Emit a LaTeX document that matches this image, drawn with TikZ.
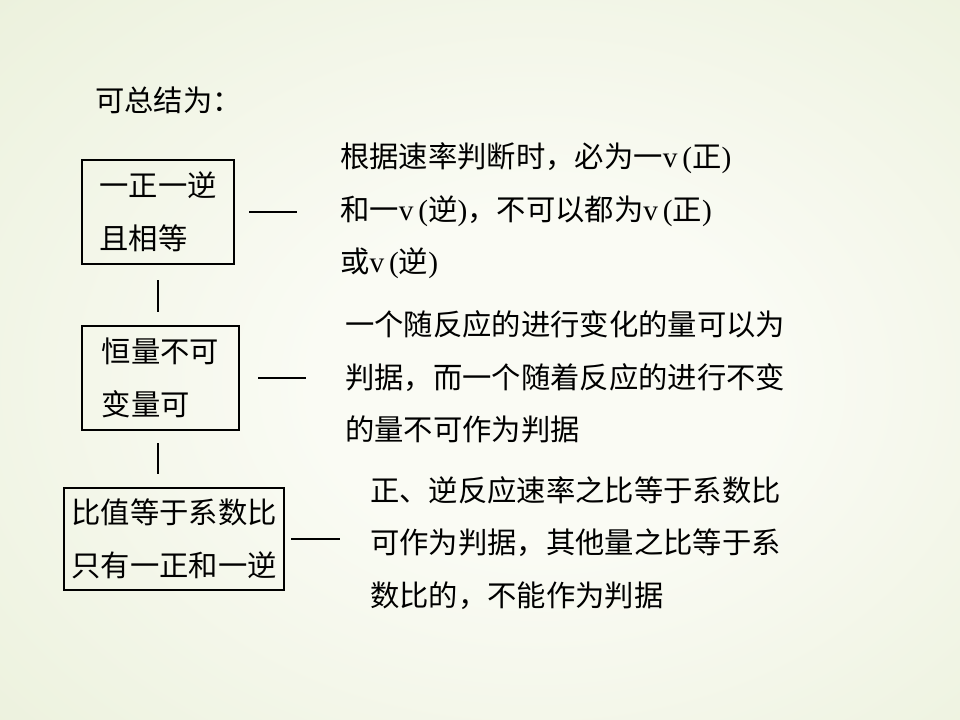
\documentclass[tikz,border=0pt]{standalone}
\usepackage{fontspec}
\newfontfamily\cjk{Noto Sans CJK SC}
\newfontfamily\lat{Liberation Serif}
\newcommand{\rate}[1]{{\lat v\,(}#1{\lat )}}
\definecolor{bgin}{HTML}{FAFBF4}
\definecolor{bgout}{HTML}{D9E4BE}
\pgfdeclareradialshading{slideglow}{\pgfpoint{4bp}{-2bp}}{color(0bp)=(bgin); color(12bp)=(bgin); color(72bp)=(bgout)}

\begin{document}
\begin{tikzpicture}[x=0.75pt, y=-0.75pt,
  every node/.style={font=\cjk\fontsize{22}{39.5}\selectfont, inner sep=0pt},
  stepbox/.style={draw, line width=1.6pt, align=left, minimum height=78pt},
  note/.style={anchor=west, align=left},
  link/.style={line width=1.2pt}]
 \shade[shading=slideglow] (0,0) rectangle (960,720);
 \useasboundingbox (0,0) rectangle (960,720);
 \node[anchor=west] (title) at (95,100) {可总结为：};
 % the three criteria
 \node[stepbox, minimum width=114pt] (b1) at (158,212) {一正一逆\\且相等};
 \node[stepbox, minimum width=117.75pt] (b2) at (160.5,378) {恒量不可\\变量可};
 \node[stepbox, minimum width=165pt, minimum height=76.5pt] (b3) at (174,539) {比值等于系数比\\只有一正和一逆};
 % explanations
 \node[note] (t1) at (340,211) {根据速率判断时，必为一\rate{正}\\和一\rate{逆}，不可以都为\rate{正}\\或\rate{逆}};
 \node[note] (t2) at (345,377) {一个随反应的进行变化的量可以为\\判据，而一个随着反应的进行不变\\的量不可作为判据};
 \node[note] (t3) at (370,543) {正、逆反应速率之比等于系数比\\可作为判据，其他量之比等于系\\数比的，不能作为判据};
 \foreach \u/\v/\a/\b in {b1/t1/10.5/32.25, b2/t2/13.5/29.25, b3/t3/4.5/22.5}
   \draw[link, shorten <=\a pt, shorten >=\b pt] (\u.east) -- (\u.east -| \v.west);
 \draw[link, shorten <=11.25pt, shorten >=9.75pt] (b1.south) -- (b1.south |- b2.north);
 \draw[link, shorten <=9pt, shorten >=9.75pt] (b2.south -| b1.south) -- (b1.south |- b3.north);
\end{tikzpicture}
\end{document}
